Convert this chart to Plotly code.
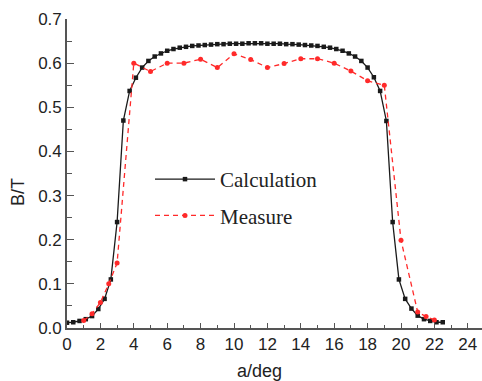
import plotly.graph_objects as go

# Calculation series (angle step 0.375 deg)
calc_x = [0.0, 0.375, 0.75, 1.125, 1.5, 1.875, 2.25, 2.625, 3.0, 3.375,
          3.75, 4.125, 4.5, 4.875, 5.25, 5.625, 6.0, 6.375, 6.75, 7.125,
          7.5, 7.875, 8.25, 8.625, 9.0, 9.375, 9.75, 10.125, 10.5, 10.875,
          11.25, 11.625, 12.0, 12.375, 12.75, 13.125, 13.5, 13.875, 14.25, 14.625,
          15.0, 15.375, 15.75, 16.125, 16.5, 16.875, 17.25, 17.625, 18.0, 18.375,
          18.75, 19.125, 19.5, 19.875, 20.25, 20.625, 21.0, 21.375, 21.75, 22.125,
          22.5]
calc_y = [0.012, 0.013, 0.016, 0.020, 0.027, 0.043, 0.066, 0.110, 0.240, 0.470,
          0.537, 0.567, 0.590, 0.605, 0.615, 0.622, 0.628, 0.632, 0.635, 0.637,
          0.639, 0.640, 0.641, 0.642, 0.643, 0.643, 0.644, 0.644, 0.644, 0.645,
          0.645, 0.645, 0.644, 0.644, 0.644, 0.643, 0.643, 0.642, 0.641, 0.640,
          0.639, 0.637, 0.635, 0.632, 0.628, 0.622, 0.615, 0.605, 0.590, 0.568,
          0.537, 0.469, 0.240, 0.110, 0.066, 0.044, 0.028, 0.020, 0.016, 0.013,
          0.013]

# Measured series
meas_x = [1.0, 1.5, 2.0, 2.5, 3.0, 4.0, 5.0, 6.0, 7.0, 8.0, 9.0, 10.0, 11.0,
          12.0, 13.0, 14.0, 15.0, 16.0, 17.0, 18.0, 19.0, 20.0, 21.0, 21.5, 22.0]
meas_y = [0.017, 0.032, 0.058, 0.100, 0.147, 0.600, 0.581, 0.600, 0.600, 0.609,
          0.590, 0.621, 0.608, 0.590, 0.599, 0.610, 0.610, 0.600, 0.582, 0.560,
          0.550, 0.199, 0.036, 0.026, 0.018]

x_ticks = [0, 2, 4, 6, 8, 10, 12, 14, 16, 18, 20, 22, 24]
y_ticks = [0.0, 0.1, 0.2, 0.3, 0.4, 0.5, 0.6, 0.7]
y_tick_text = ["0.0", "0.1", "0.2", "0.3", "0.4", "0.5", "0.6", "0.7"]

fig = go.Figure()
fig.add_trace(go.Scatter(
    x=calc_x, y=calc_y, mode="lines+markers", name="Calculation",
    line=dict(color="#1a1a1a", width=1.3),
    marker=dict(symbol="square", size=4.5, color="#1a1a1a"),
    legendgroup="a",
))
fig.add_trace(go.Scatter(
    x=meas_x, y=meas_y, mode="lines+markers", name="Measure",
    line=dict(color="#ff2a2a", width=1.3, dash="5px,4px"),
    marker=dict(symbol="circle", size=5, color="#ff2a2a"),
    legendgroup="b",
))

axis_col = "#555555"
fig.update_layout(
    width=482, height=381,
    margin=dict(l=67, r=0, t=19, b=53),
    paper_bgcolor="white", plot_bgcolor="white",
    showlegend=True,
    legend=dict(
        x=0.2, y=0.547, xanchor="left", yanchor="top",
        font=dict(family="Liberation Serif", size=21, color="#222222"),
        bgcolor="rgba(0,0,0,0)", traceorder="grouped", tracegroupgap=6,
        itemwidth=60,
    ),
    xaxis=dict(
        range=[0, 24.85], tickvals=x_ticks, ticks="inside", ticklen=5,
        tickwidth=1.2, tickcolor=axis_col, showline=True, linecolor=axis_col,
        linewidth=1.6, showgrid=False, zeroline=False, automargin=False,
        tickfont=dict(family="Liberation Sans", size=17, color="#222222"),
        minor=dict(dtick=1, ticks="inside", ticklen=3, tickcolor=axis_col, tickwidth=1),
    ),
    yaxis=dict(
        range=[0, 0.7], tickvals=y_ticks, ticktext=y_tick_text, ticks="inside",
        ticklen=7, tickwidth=1.2, tickcolor=axis_col, showline=True,
        linecolor=axis_col, linewidth=1.6, showgrid=False, zeroline=False,
        automargin=False,
        tickfont=dict(family="Liberation Sans", size=17, color="#222222"),
        minor=dict(dtick=0.05, ticks="inside", ticklen=5, tickcolor=axis_col, tickwidth=1),
    ),
    annotations=[
        dict(text="a/deg", xref="paper", yref="paper", x=0.465, y=-0.1,
             xanchor="center", yanchor="top", showarrow=False,
             font=dict(family="Liberation Sans", size=18, color="#222222")),
        dict(text="B/T", xref="paper", yref="paper", x=-0.118, y=0.44,
             xanchor="center", yanchor="middle", showarrow=False, textangle=-90,
             font=dict(family="Liberation Sans", size=18, color="#222222")),
    ],
)

fig.write_html(
    "out.html",
    config={"displayModeBar": False},
    post_script="document.body.style.margin='0';document.body.style.padding='0';document.body.style.overflow='hidden';",
)
